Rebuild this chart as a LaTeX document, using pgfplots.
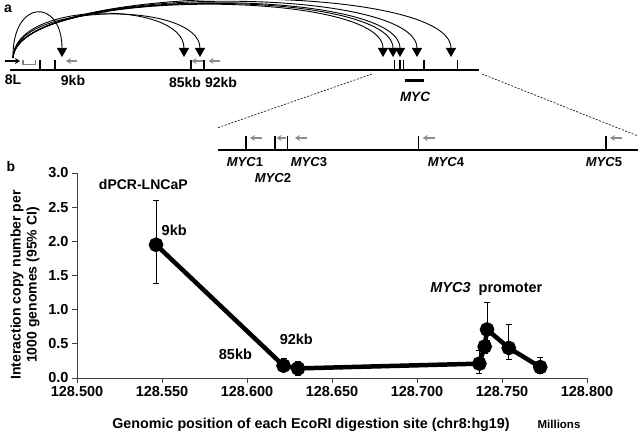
\documentclass[border=0pt]{standalone}
\usepackage{pgfplots}
\pgfplotsset{compat=1.18}
\usepackage{fontspec}
\setmainfont{Liberation Sans}
\usetikzlibrary{arrows.meta}
\newcommand{\fs}[1]{\fontsize{#1}{#1}\selectfont}
\begin{document}
\begin{tikzpicture}[x=1pt,y=1pt,font=\bfseries]
\useasboundingbox (0,0) rectangle (638,434);
\begin{scope}[shift={(0,434)},yscale=-1]
  % panel a
  \node[font=\bfseries\fs{14}] at (8,9) {a};
  \draw[line width=2.5pt] (10,70) -- (479,70);
  \foreach \x in {40,55,191,204,394.3,400,403.3,424,457.3}
    \draw[line width=1.6pt] (\x,70) -- (\x,60);
  \draw[black!50, line width=1.2pt] (23,60.5) -- (23,64.5) -- (35.5,64.5) -- (35.5,60.5);
  \draw[line width=1.5pt, -{Stealth[length=5pt,width=6pt]}] (5,61) -- (20,61);
  \foreach \a/\b in {77/66,203/191.5,220/208.5}
    \draw[black!45, line width=1.6pt, -{Stealth[length=5pt,width=6pt]}] (\a,61) -- (\b,61);
  \tikzset{arc/.style={line width=0.9pt, -{Triangle[length=9pt,width=10pt]}}}
  \draw[arc] (13,58) .. controls (12,-2) and (62,-2) .. (62,57);
  \draw[arc] (13,58) .. controls (14,0) and (184,0) .. (184,57);
  \draw[arc] (13,58) .. controls (14,1) and (200,1) .. (200,57);
  \draw[arc] (13,58) .. controls (14,-12) and (383,-12) .. (383,57);
  \draw[arc] (13,58) .. controls (15,-13) and (393,-13) .. (393,57);
  \draw[arc] (13,58) .. controls (16,-14) and (400,-14) .. (400,57);
  \draw[arc] (13,58) .. controls (17,-16) and (417,-16) .. (417,57);
  \draw[arc] (13,58) .. controls (18,-19) and (451,-19) .. (451,57);
  \node[font=\bfseries\fs{14}] at (13,80) {8L};
  \node[font=\bfseries\fs{14}] at (73,80) {9kb};
  \node[font=\bfseries\fs{14}] at (185,82) {85kb};
  \node[font=\bfseries\fs{14}] at (221,82) {92kb};
  \draw[line width=3pt] (405,81) -- (424,81);
  \node[font=\bfseries\itshape\fs{13.5}] at (415,97) {MYC};
  \draw[line width=0.6pt, dash pattern=on 2pt off 1.5pt] (372,74) -- (217,128);
  \draw[line width=0.6pt, dash pattern=on 2pt off 1.5pt] (482,74) -- (638,136);
  \draw[line width=2pt] (218,150) -- (638,150);
  \foreach \x in {245.7,275,287.3,418.3,605.7}
    \draw[line width=1.6pt] (\x,150) -- (\x,136);
  \foreach \a/\b in {262/250,285.5/276.5,306.7/295,435/422.7,621.7/610}
    \draw[black!45, line width=1.6pt, -{Stealth[length=5pt,width=6pt]}] (\a,138) -- (\b,138);
  \node[font=\bfseries\fs{13}] at (245,162) {\textit{MYC}1};
  \node[font=\bfseries\fs{13}] at (273,178) {\textit{MYC}2};
  \node[font=\bfseries\fs{13}] at (309,162) {\textit{MYC}3};
  \node[font=\bfseries\fs{13}] at (446,162) {\textit{MYC}4};
  \node[font=\bfseries\fs{13}] at (604,162) {\textit{MYC}5};
  % panel b labels
  \node[font=\bfseries\fs{14}] at (11,166) {b};
  \node[font=\bfseries\fs{14.3}] at (311,425) {Genomic position of each EcoRI digestion site (chr8:hg19)};
  \node[font=\bfseries\fs{11.5}] at (559,424) {Millions};
  \node[font=\bfseries\fs{14}, align=center, rotate=90] at (25,285) {Interaction copy number per\\[2pt]1000 genomes (95\% CI)};
\end{scope}
\begin{axis}[
  scale only axis, width=510pt, height=205pt,
  at={(77pt,56pt)}, anchor=south west,
  xmin=128.5, xmax=128.8, ymin=0, ymax=3,
  axis x line*=bottom, axis y line*=left,
  axis line style={-, line width=0.8pt, black!75},
  xtick={128.5,128.55,128.6,128.65,128.7,128.75,128.8},
  xticklabels={128.500,128.550,128.600,128.650,128.700,128.750,128.800},
  ytick={0,0.5,1,1.5,2,2.5,3},
  yticklabels={0.0,0.5,1.0,1.5,2.0,2.5,3.0},
  tick align=outside, major tick length=5pt,
  tick style={line width=0.8pt, black!75},
  tick label style={font=\bfseries\fs{14.5}},
  clip=false,
]
\addplot[black, line width=4.5pt, mark=*, mark size=5pt,
  error bars/.cd, y dir=both, y explicit,
  error bar style={line width=1pt, solid},
  error mark options={rotate=90, mark size=3pt, line width=1pt}]
coordinates {
  (128.5465,1.95) += (0,0.65) -= (0,0.56)
  (128.6215,0.18) += (0,0.10) -= (0,0.09)
  (128.6300,0.14) += (0,0.10) -= (0,0.10)
  (128.7367,0.21) += (0,0.19) -= (0,0.14)
  (128.7398,0.46) += (0,0.09) -= (0,0.10)
  (128.7412,0.71) += (0,0.40) -= (0,0.16)
  (128.7540,0.44) += (0,0.34) -= (0,0.17)
  (128.7725,0.16) += (0,0.14) -= (0,0.10)
};
\node[font=\bfseries\fs{14}] at (axis cs:128.539,2.83) {dPCR-LNCaP};
\node[font=\bfseries\fs{14.5}] at (axis cs:128.5572,2.157) {9kb};
\node[font=\bfseries\fs{14.5}] at (axis cs:128.5932,0.34) {85kb};
\node[font=\bfseries\fs{14.5}] at (axis cs:128.629,0.56) {92kb};
\node[font=\bfseries\fs{14.5}] at (axis cs:128.7408,1.307) {\textit{MYC3}\ \ promoter};
\end{axis}
\end{tikzpicture}
\end{document}
